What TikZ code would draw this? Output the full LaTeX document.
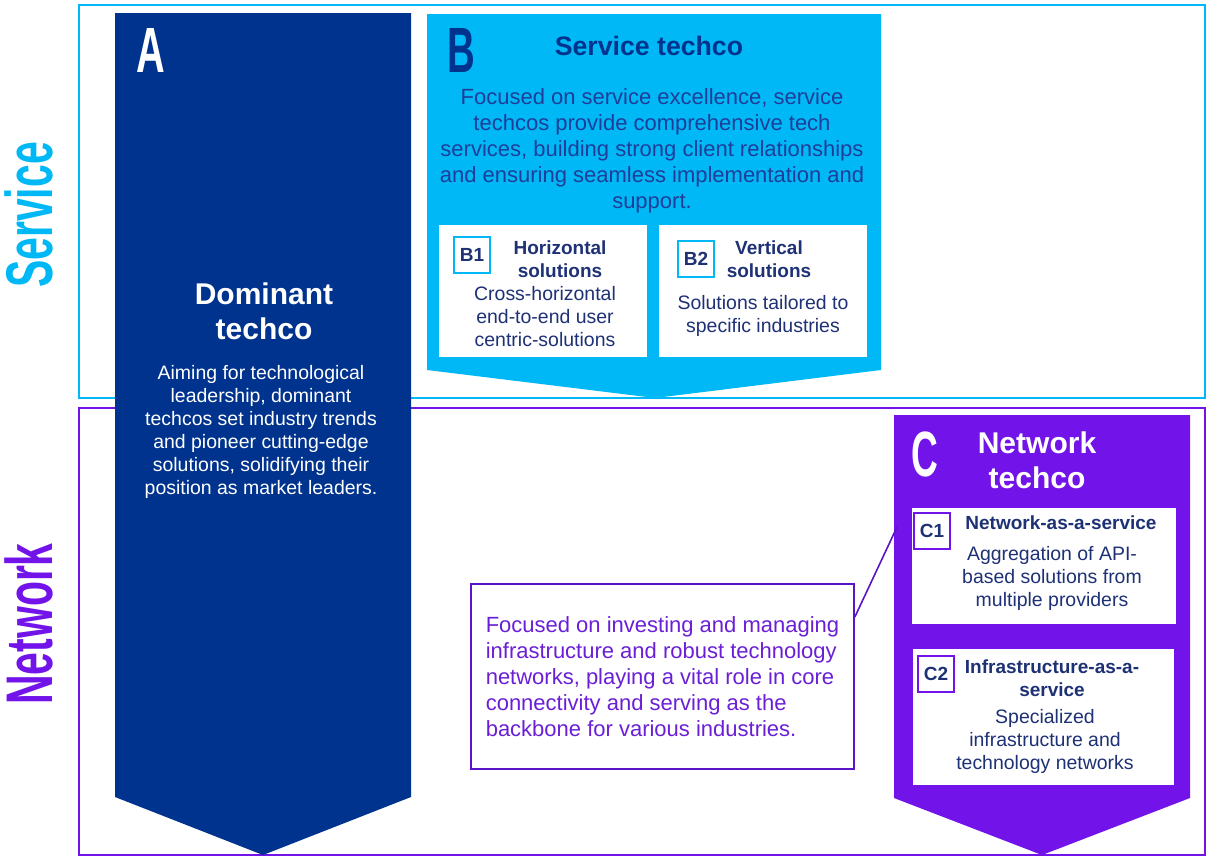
\documentclass[tikz,border=0pt]{standalone}
\usepackage{fontspec}
\setmainfont{Liberation Sans}
\usetikzlibrary{positioning}
\definecolor{kblue}{HTML}{00338D}
\definecolor{klight}{HTML}{00B8F5}
\definecolor{kpurple}{HTML}{7213EA}
\definecolor{knavy}{HTML}{1E3175}
\definecolor{kdesc}{HTML}{1E3E9A}
\definecolor{kviolet}{HTML}{5A14C8}
\definecolor{ktext}{HTML}{6A1FD6}
\newcommand{\narrow}[2]{\scalebox{#1}[1]{#2}}
\tikzset{>=latex}
\tikzset{
    every node/.style={inner sep=0pt},
    letter/.style={font=\fontsize{48}{48}\selectfont\bfseries},
    headline/.style={font=\fontsize{22.5}{26.25}\selectfont\bfseries, align=center},
    bodytext/.style={font=\fontsize{14.6}{17.25}\selectfont, align=center, text=knavy},
    subhead/.style={font=\fontsize{14.25}{17.25}\selectfont\bfseries, align=center, text=knavy},
    tagbox/.style={draw=#1, line width=1.5pt, fill=white, minimum size=27pt,
        font=\fontsize{14.25}{14.25}\selectfont\bfseries, text=knavy},
    sidelabel/.style={rotate=90, font=\fontsize{49.5}{49.5}\selectfont\bfseries},
}

\begin{document}
\begin{tikzpicture}[x=0.75pt, y=-0.75pt]
        \useasboundingbox (0,0) rectangle (1207,857);

        % frames
        \draw [klight, line width=1.6pt] (79,5) rectangle (1205,398);
        \draw [kpurple, line width=1.6pt] (79,408) rectangle (1205,855);

        \node [sidelabel, text=klight] (ServiceLbl) at (28.5,215) {\narrow{0.62}{Service}};
        \node [sidelabel, text=kpurple] (NetworkLbl) at (28.5,624) {\narrow{0.62}{Network}};

        % chevrons
        \fill [kblue] (115,13) -- (411,13) -- (411,797) -- (263,855) -- (115,797) -- cycle;
        \fill [klight] (427,14) -- (881,14) -- (881,370) -- (655,398) -- (427,370) -- cycle;
        \fill [kpurple] (894,415) -- (1190,415) -- (1190,798) -- (1042,855) -- (894,798) -- cycle;

        % A
        \node [letter, text=white] (ALetter) at (150.5,50) {\narrow{0.62}{A}};
        \node [headline, text=white] (ATitle) at (264,311) {Dominant\\techco};
        \node [bodytext, text=white] (ABody) at (261,432) {Aiming for technological\\leadership, dominant\\techcos set industry trends\\and pioneer cutting-edge\\solutions, solidifying their\\position as market leaders.};

        % B
        \node [letter, text=kblue] (BLetter) at (461.5,50) {\narrow{0.6}{B}};
        \node [headline, text=kblue, font=\fontsize{20}{24}\selectfont\bfseries] (BTitle) at (649,46) {Service techco};
        \node [bodytext, text=kdesc, font=\fontsize{16.5}{19.5}\selectfont] (BBody) at (652,150.5) {Focused on service excellence, service\\techcos provide comprehensive tech\\services, building strong client relationships\\and ensuring seamless implementation and\\support.};

        \fill [white] (439,225) rectangle (647,357);
        \fill [white] (659,225) rectangle (867,357);

        \node [tagbox=klight] (B1Tag) at (472,254.5) {B1};
        \node [subhead] (B1Head) at (560,259.5) {Horizontal\\solutions};
        \node [bodytext] (B1Body) at (545,317) {Cross-horizontal\\end-to-end user\\centric-solutions};

        \node [tagbox=klight] (B2Tag) at (696,258.5) {B2};
        \node [subhead] (B2Head) at (769,259.5) {Vertical\\solutions};
        \node [bodytext] (B2Body) at (763,316) {Solutions tailored to\\specific industries};

        % C
        \node [letter, text=white] (CLetter) at (925,454.5) {\narrow{0.58}{C}};
        \node [headline, text=white] (CTitle) at (1037,460) {Network\\techco};

        \fill [white] (912,508) rectangle (1176,624);
        \fill [white] (913,649) rectangle (1174,785);

        \node [tagbox=kpurple] (C1Tag) at (932,530.5) {C1};
        \node [subhead] (C1Head) at (1061,523) {Network-as-a-service};
        \node [bodytext] (C1Body) at (1052,578.5) {Aggregation of API-\\based solutions from\\multiple providers};

        \node [tagbox=kpurple] (C2Tag) at (936,674) {C2};
        \node [subhead] (C2Head) at (1052,678.5) {Infrastructure-as-a-\\service};
        \node [bodytext] (C2Body) at (1045,741) {Specialized\\infrastructure and\\technology networks};

        % callout
        \node [draw=kviolet, line width=1.5pt, minimum width=287pt, minimum height=138.75pt,
            align=left, text=ktext, font=\fontsize{16.5}{19.5}\selectfont]
            (NetDesc) at (662.5,676.5) {Focused on investing and managing\\infrastructure and robust technology\\networks, playing a vital role in core\\connectivity and serving as the\\backbone for various industries.};
        \coordinate (CTab) at (897,527);
        \draw [kviolet, line width=1.2pt] ([yshift=-25.5pt]NetDesc.north east) -- (CTab);
\end{tikzpicture}
\end{document}
